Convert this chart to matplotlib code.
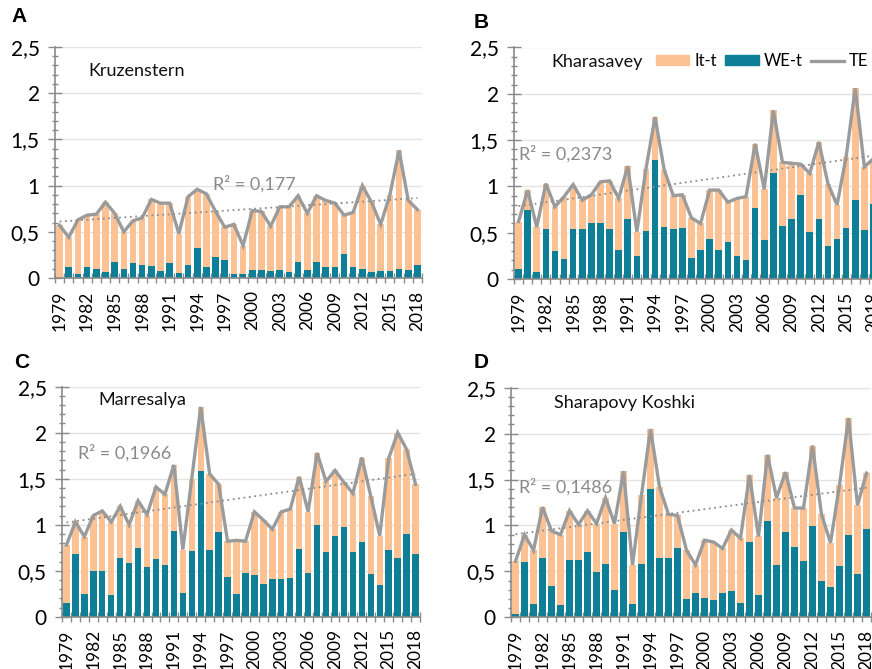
import numpy as np
import matplotlib
matplotlib.use("Agg")
import matplotlib.pyplot as plt
from matplotlib.patches import Patch
from matplotlib.lines import Line2D

plt.rcParams['font.family'] = ['Lato', 'DejaVu Sans']

years = list(range(1979, 2019))
year_labels = [str(y) for y in range(1979, 2019, 3)]
ytick_vals = [0, 0.5, 1, 1.5, 2, 2.5]
ytick_labels = ["0", "0,5", "1", "1,5", "2", "2,5"]

stations = ["Kruzenstern", "Kharasavey", "Marresalya", "Sharapovy Koshki"]
panel_letters = ["A", "B", "C", "D"]
r2_labels = ["R² = 0,177", "R² = 0,2373", "R² = 0,1966", "R² = 0,1486"]

te_kruzenstern = [0.57, 0.44, 0.63, 0.68, 0.69, 0.82, 0.70, 0.50, 0.62, 0.65,
                  0.85, 0.81, 0.81, 0.48, 0.88, 0.96, 0.91, 0.72, 0.55, 0.58,
                  0.35, 0.73, 0.72, 0.56, 0.77, 0.77, 0.89, 0.70, 0.89, 0.84,
                  0.81, 0.68, 0.71, 1.00, 0.82, 0.58, 0.90, 1.38, 0.84, 0.74]
we_kruzenstern = [0.00, 0.12, 0.04, 0.12, 0.10, 0.06, 0.17, 0.10, 0.16, 0.14,
                  0.13, 0.08, 0.16, 0.05, 0.14, 0.33, 0.12, 0.23, 0.19, 0.04,
                  0.04, 0.09, 0.09, 0.08, 0.09, 0.07, 0.17, 0.09, 0.17, 0.12,
                  0.12, 0.26, 0.12, 0.10, 0.07, 0.08, 0.08, 0.10, 0.09, 0.14]

te_kharasavey = [0.62, 0.96, 0.56, 1.03, 0.78, 0.89, 1.02, 0.85, 0.91, 1.05,
                 1.06, 0.87, 1.22, 0.51, 1.19, 1.75, 1.18, 0.90, 0.91, 0.66,
                 0.60, 0.96, 0.96, 0.83, 0.87, 0.89, 1.46, 0.97, 1.82, 1.26,
                 1.25, 1.24, 1.14, 1.48, 1.03, 0.80, 1.32, 2.06, 1.21, 1.30]
we_kharasavey = [0.11, 0.75, 0.08, 0.54, 0.30, 0.22, 0.54, 0.54, 0.60, 0.60,
                 0.54, 0.31, 0.65, 0.25, 0.52, 1.29, 0.56, 0.54, 0.55, 0.23,
                 0.31, 0.43, 0.31, 0.40, 0.25, 0.21, 0.77, 0.42, 1.14, 0.57,
                 0.65, 0.91, 0.51, 0.65, 0.36, 0.43, 0.55, 0.85, 0.53, 0.81]

te_marresalya = [0.78, 1.03, 0.87, 1.10, 1.15, 1.03, 1.20, 1.00, 1.26, 1.11,
                 1.41, 1.33, 1.65, 0.73, 1.50, 2.28, 1.55, 1.44, 0.82, 0.83,
                 0.82, 1.14, 1.05, 0.95, 1.14, 1.17, 1.52, 1.14, 1.78, 1.47,
                 1.59, 1.46, 1.34, 1.73, 1.31, 0.88, 1.72, 2.00, 1.82, 1.44]
we_marresalya = [0.15, 0.68, 0.25, 0.50, 0.50, 0.24, 0.64, 0.58, 0.75, 0.54,
                 0.63, 0.56, 0.93, 0.26, 0.71, 1.58, 0.72, 0.92, 0.43, 0.25,
                 0.47, 0.45, 0.36, 0.41, 0.41, 0.42, 0.74, 0.47, 1.00, 0.70,
                 0.88, 0.98, 0.70, 0.81, 0.46, 0.35, 0.73, 0.64, 0.90, 0.68]

te_sharapovy = [0.61, 0.90, 0.73, 1.20, 0.94, 0.90, 1.16, 1.01, 1.16, 1.02,
                1.30, 1.02, 1.59, 0.57, 1.33, 2.05, 1.42, 1.12, 1.11, 0.73,
                0.57, 0.84, 0.82, 0.75, 0.95, 0.86, 1.55, 0.88, 1.77, 1.30,
                1.58, 1.19, 1.19, 1.87, 1.12, 0.81, 1.44, 2.17, 1.22, 1.57]
we_sharapovy = [0.04, 0.60, 0.15, 0.65, 0.34, 0.13, 0.62, 0.62, 0.71, 0.49,
                0.58, 0.30, 0.93, 0.14, 0.58, 1.40, 0.65, 0.65, 0.76, 0.20,
                0.26, 0.21, 0.19, 0.27, 0.29, 0.16, 0.82, 0.24, 1.05, 0.57,
                0.93, 0.77, 0.61, 0.99, 0.39, 0.33, 0.56, 0.90, 0.47, 0.96]

te_all = [te_kruzenstern, te_kharasavey, te_marresalya, te_sharapovy]
we_all = [we_kruzenstern, we_kharasavey, we_marresalya, we_sharapovy]

C_IT = "#fcc294"
C_WE = "#0f7f97"
C_TE = "#9b9b9b"
C_AX = "#8a8a8a"
C_GRID = "#e3e3e3"

W, H = 872, 669
fig = plt.figure(figsize=(W / 100, H / 100), dpi=100)

def px_axes(left, top, right, bottom):
    return [left / W, 1 - bottom / H, (right - left) / W, (bottom - top) / H]

axes_px = [
    (55, 47, 422, 278),
    (514, 47.5, 878, 279),
    (62, 386.7, 420, 616.7),
    (511, 387.7, 871, 617.3),
]
name_pos = [(88, 71), (551, 62), (98, 400), (554, 403)]
r2_pos = [(213, 184), (519, 154), (78, 453), (519, 487)]
letter_pos = [(19, 17), (481, 22), (22, 362), (481, 363)]

for k in range(4):
    ax = fig.add_axes(px_axes(*axes_px[k]))
    te = np.array(te_all[k])
    we = np.array(we_all[k])
    it = te - we
    x = np.arange(len(years)) + 0.5

    ax.set_axisbelow(True)
    for yv in ytick_vals[1:]:
        ax.axhline(yv, color=C_GRID, lw=1.0, zorder=0)
    ax.bar(x, we, width=0.72, color=C_WE, zorder=2, label="WE-t")
    ax.bar(x, it, width=0.72, bottom=we, color=C_IT, zorder=2, label="It-t")
    ax.plot(x, te, color=C_TE, lw=2.4, zorder=3, solid_joinstyle="miter")
    coef = np.polyfit(x, te, 1)
    ax.plot(x, np.polyval(coef, x), color="#8c8c8c", lw=1.3,
            linestyle=(0, (1, 2)), zorder=4)

    ax.set_xlim(0, len(years))
    ax.set_ylim(0, 2.5)
    ax.set_yticks(ytick_vals)
    ax.set_yticklabels(ytick_labels, fontsize=15)
    ax.set_yticks(np.arange(0, 2.51, 0.1), minor=True)
    ax.set_xticks(np.arange(0, len(years) + 1), minor=True)
    ax.set_xticks([x[i] for i in range(0, len(years), 3)])
    ax.set_xticklabels(year_labels, rotation=90, fontsize=12.5)
    ax.tick_params(axis="x", which="major", length=0, pad=9)
    ax.tick_params(axis="x", which="minor", direction="inout", length=7,
                   color=C_AX, width=1)
    ax.tick_params(axis="y", which="major", direction="inout", length=10,
                   color=C_AX, width=1, pad=6)
    ax.tick_params(axis="y", which="minor", direction="inout", length=5,
                   color=C_AX, width=1)
    for s in ["top", "right"]:
        ax.spines[s].set_visible(False)
    for s in ["left", "bottom"]:
        ax.spines[s].set_color(C_AX)
        ax.spines[s].set_linewidth(1.2)

    fig.text(name_pos[k][0] / W, 1 - name_pos[k][1] / H, stations[k],
             fontsize=13, va="center", ha="left", color="#111111")
    fig.text(r2_pos[k][0] / W, 1 - r2_pos[k][1] / H, r2_labels[k],
             fontsize=13, va="center", ha="left", color="#8a8a8a")
    fig.text(letter_pos[k][0] / W, 1 - letter_pos[k][1] / H, panel_letters[k],
             fontsize=15, fontweight="bold", va="center", ha="center",
             family=["Liberation Sans", "DejaVu Sans"])

    if k == 1:
        handles = [Patch(color=C_IT, label="It-t"),
                   Patch(color=C_WE, label="WE-t"),
                   Line2D([0], [0], color=C_TE, lw=2.4, label="TE")]
        ax.legend(handles=handles, ncol=3, frameon=False, fontsize=12,
                  loc="center left",
                  bbox_to_anchor=(656 / W, 1 - 61 / H),
                  bbox_transform=fig.transFigure,
                  handlelength=2.0, handleheight=0.55, handletextpad=0.3,
                  columnspacing=0.5, borderpad=0, borderaxespad=0)

fig.savefig("out.png", dpi=100)
